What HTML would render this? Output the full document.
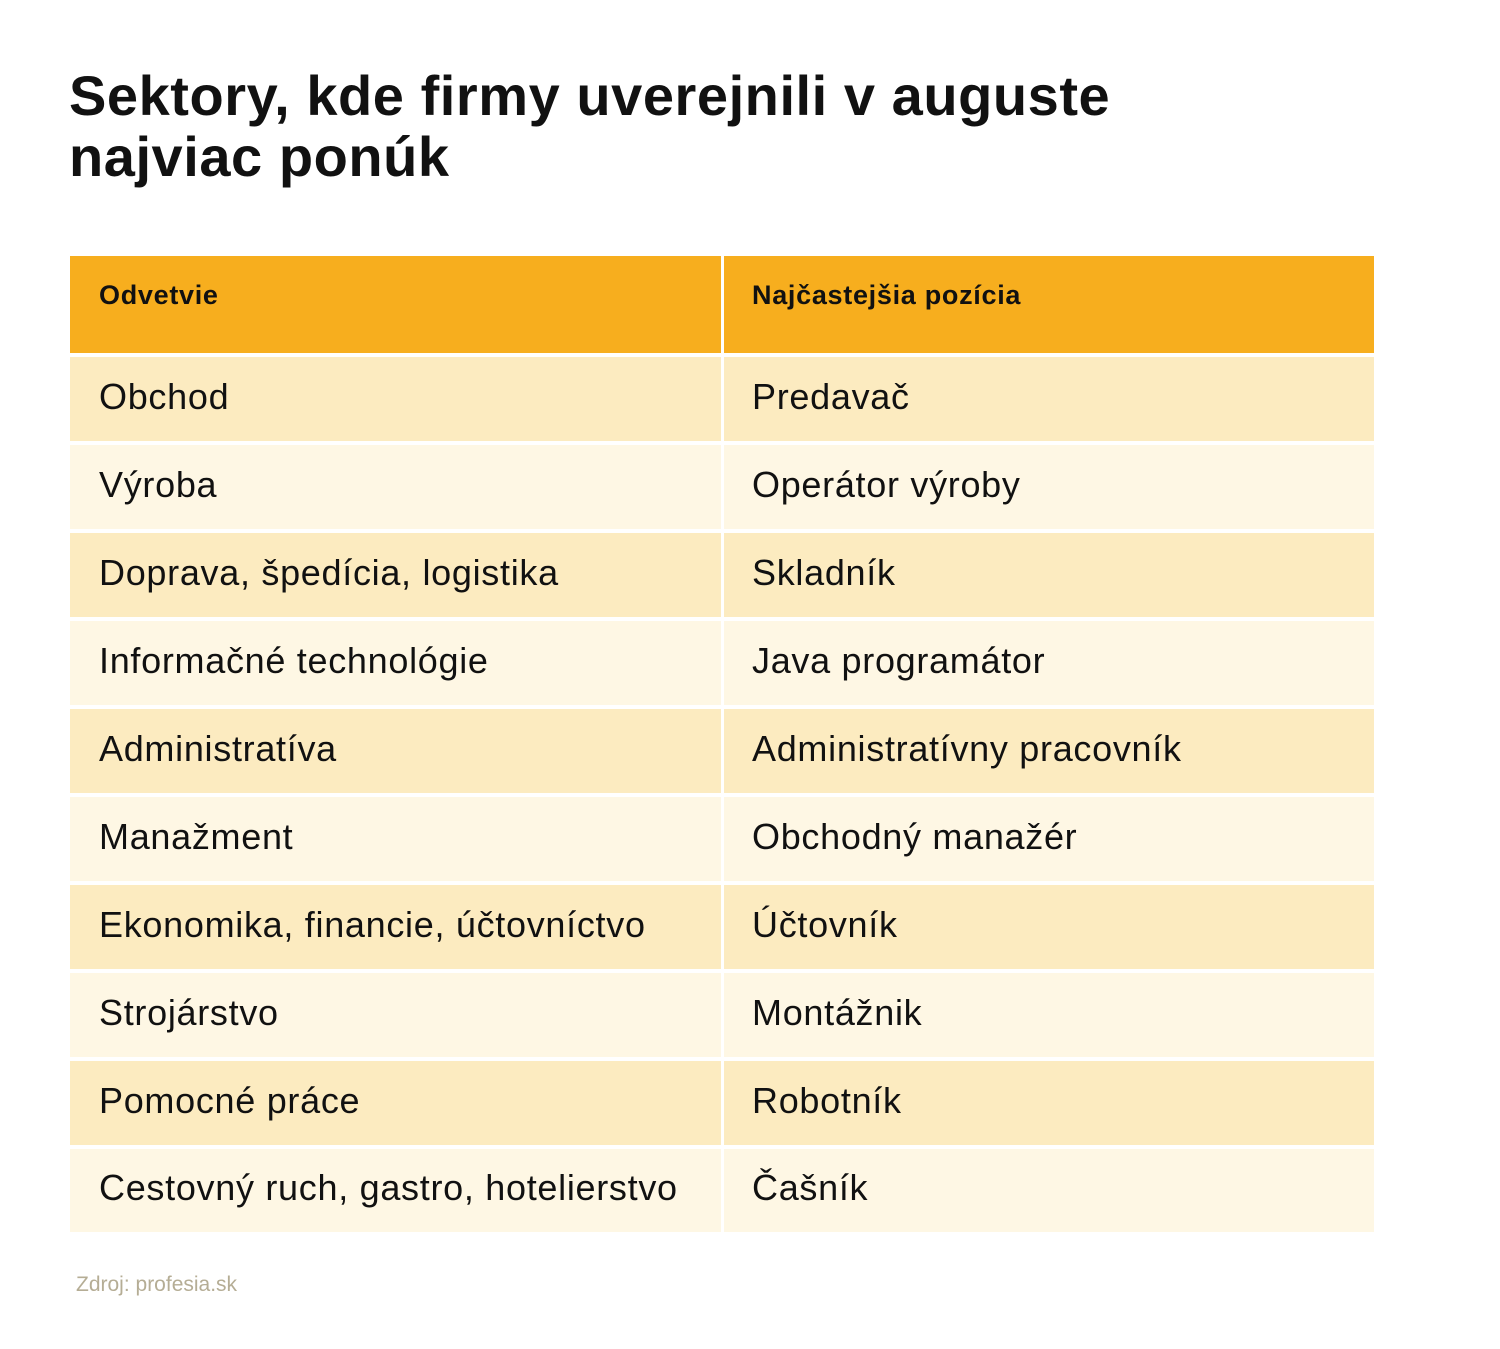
<!DOCTYPE html>
<html><head><meta charset="utf-8"><style>
body{margin:0;width:1500px;height:1349px;background:#fff;position:relative;font-family:"Liberation Sans",sans-serif;overflow:hidden}
.t{position:absolute;left:69px;top:65px;font-weight:bold;font-size:56px;line-height:61px;color:#111;letter-spacing:0.55px}
.r{position:absolute;left:70px;width:1304px}
.c{position:absolute;top:0;bottom:0;display:flex;align-items:center;font-size:36px;color:#111;padding-bottom:5px;box-sizing:border-box;letter-spacing:0.7px}
.a{left:0;width:651px;padding-left:29px}
.b{left:654px;right:0;padding-left:28px}
.h .c{font-weight:bold;font-size:27px;align-items:flex-start;padding-top:24px;letter-spacing:0.7px}
.s{position:absolute;left:76px;top:1273px;font-size:21px;color:#b5ad95}
</style></head><body>
<div class="t">Sektory, kde firmy uverejnili v auguste<br>najviac ponúk</div>
<div class="r h" style="top:256px;height:97px"><div class="c a" style="background:#f7ae1e">Odvetvie</div><div class="c b" style="background:#f7ae1e">Najčastejšia pozícia</div></div>
<div class="r" style="top:357px;height:84px"><div class="c a" style="background:#fcebc0">Obchod</div><div class="c b" style="background:#fcebc0">Predavač</div></div>
<div class="r" style="top:445px;height:84px"><div class="c a" style="background:#fef7e4">Výroba</div><div class="c b" style="background:#fef7e4">Operátor výroby</div></div>
<div class="r" style="top:533px;height:84px"><div class="c a" style="background:#fcebc0">Doprava, špedícia, logistika</div><div class="c b" style="background:#fcebc0">Skladník</div></div>
<div class="r" style="top:621px;height:84px"><div class="c a" style="background:#fef7e4">Informačné technológie</div><div class="c b" style="background:#fef7e4">Java programátor</div></div>
<div class="r" style="top:709px;height:84px"><div class="c a" style="background:#fcebc0">Administratíva</div><div class="c b" style="background:#fcebc0">Administratívny pracovník</div></div>
<div class="r" style="top:797px;height:84px"><div class="c a" style="background:#fef7e4">Manažment</div><div class="c b" style="background:#fef7e4">Obchodný manažér</div></div>
<div class="r" style="top:885px;height:84px"><div class="c a" style="background:#fcebc0">Ekonomika, financie, účtovníctvo</div><div class="c b" style="background:#fcebc0">Účtovník</div></div>
<div class="r" style="top:973px;height:84px"><div class="c a" style="background:#fef7e4">Strojárstvo</div><div class="c b" style="background:#fef7e4">Montážnik</div></div>
<div class="r" style="top:1061px;height:84px"><div class="c a" style="background:#fcebc0">Pomocné práce</div><div class="c b" style="background:#fcebc0">Robotník</div></div>
<div class="r" style="top:1149px;height:83px"><div class="c a" style="background:#fef7e4">Cestovný ruch, gastro, hotelierstvo</div><div class="c b" style="background:#fef7e4">Čašník</div></div>
<div class="s">Zdroj: profesia.sk</div>
</body></html>
